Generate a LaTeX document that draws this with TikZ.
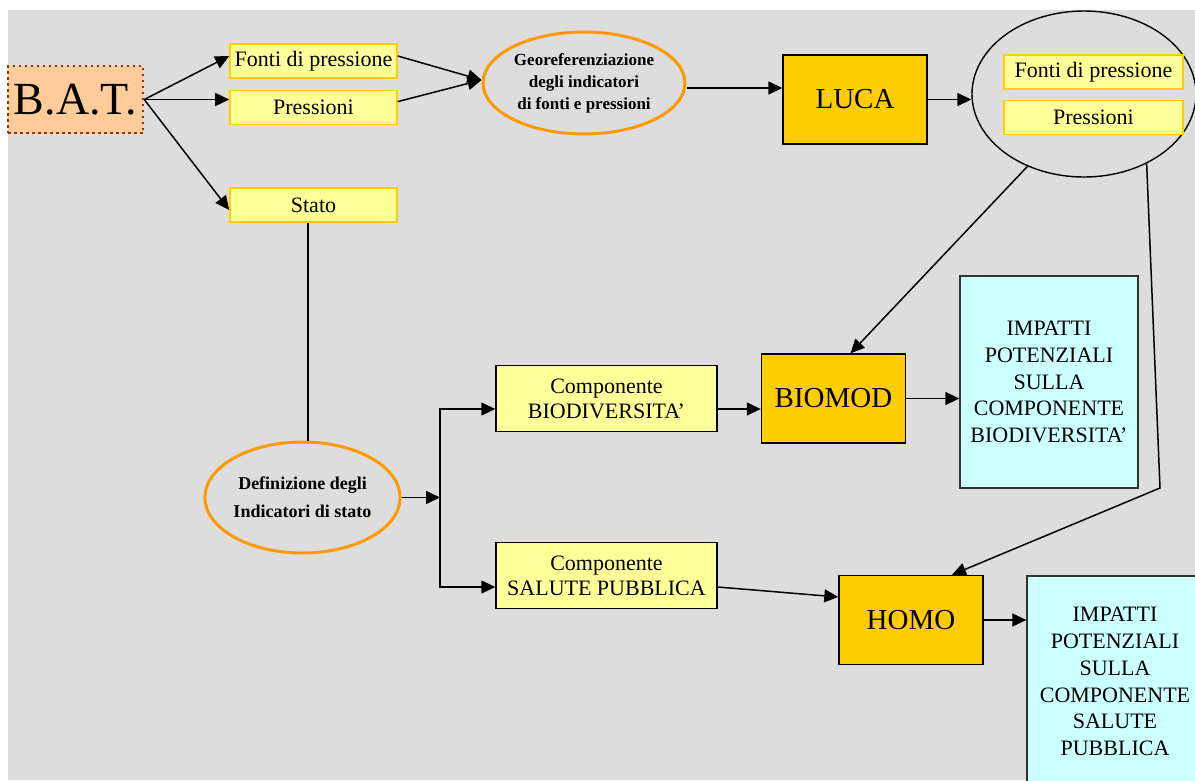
\documentclass[tikz,border=0pt]{standalone}
\usepackage{fontspec}
\setmainfont{Liberation Serif}
\usetikzlibrary{arrows.meta,positioning,shapes.geometric}
\definecolor{bggray}{HTML}{DDDDDD}
\definecolor{paleyellow}{HTML}{FFFF99}
\definecolor{gold}{HTML}{FFCC00}
\definecolor{peach}{HTML}{FFCC99}
\definecolor{rust}{HTML}{993300}
\definecolor{paleblue}{HTML}{CCFFFF}
\definecolor{orng}{HTML}{FF9900}
\newcommand{\txtsize}[2]{\fontsize{#1}{#2}\selectfont}

\begin{document}
\begin{tikzpicture}[x=1pt, y=-1pt,
  ind/.style={draw=gold, line width=1.6pt, fill=paleyellow, inner sep=0pt, minimum width=167pt, minimum height=34pt, font=\txtsize{22}{25}},
  comp/.style={ind, draw=black, line width=1.4pt, minimum width=221pt, minimum height=66pt, align=center},
  model/.style={draw=black, line width=1.4pt, fill=gold, inner sep=0pt, minimum width=144pt, minimum height=89pt, font=\txtsize{29}{34}},
  imp/.style={draw=black!80, line width=1.3pt, fill=paleblue, inner sep=0pt, minimum width=178pt, minimum height=212pt, align=center, font=\txtsize{22}{26.7}},
  proc/.style={ellipse, draw=orng, line width=3pt, inner sep=0pt, align=center, font=\bfseries\txtsize{17}{22}},
  arr/.style={-{Triangle[length=14pt, width=13pt]}, line width=1.5pt},
  lnk/.style={line width=1.5pt}
]
\useasboundingbox (0,0) rectangle (1195,780);
\clip (0,0) rectangle (1195,780);
\fill[bggray] (8,10) rectangle (1195,780);

% sorgente e indicatori
\node[draw=rust, dash pattern=on 2.5pt off 3.5pt, line width=2.5pt, fill=peach, inner sep=0pt,
  minimum width=135pt, minimum height=67pt, font=\txtsize{46}{50}] (bat) at (75.5,99.5) {B.A.T.};
\node[ind] (fonti) at (313.5,61) {Fonti di pressione};
\node[ind, below=11pt of fonti] (press) {Pressioni};
\node[ind] (stato) at (313.5,205) {Stato};

\node[proc, minimum width=202pt, minimum height=102pt] (georef) at (584,83)
  {Georeferenziazione\\degli indicatori\\ di fonti e pressioni};
\node[model] (luca) at (855,99.5) {LUCA};

\node[ellipse, draw, line width=1.4pt, minimum width=224pt, minimum height=166pt] (out) at (1084,94) {};
\node[ind, minimum width=179pt] (fonti2) at (1093.5,72) {Fonti di pressione};
\node[ind, minimum width=179pt, below=10pt of fonti2] (press2) {Pressioni};

% stato e componenti
\node[proc, minimum width=189pt, minimum height=111pt, font=\bfseries\txtsize{18}{28}] (defin) at (302.5,497.5)
  {Definizione degli\\Indicatori di stato};
\coordinate (split) at (440,497.5);
\node[comp] (biodiv) at (606.5,398.5) {Componente\\BIODIVERSITA’};
\node[comp] (salute) at (606.5,575.5) {Componente\\SALUTE PUBBLICA};

\node[model] (biomod) at (833.5,398.5) {BIOMOD};
\node[model] (homo) at (911,620) {HOMO};
\node[imp] (imp1) at (1049,382) {IMPATTI\\POTENZIALI\\SULLA\\COMPONENTE\\BIODIVERSITA’};
\node[imp, minimum width=176pt, minimum height=211pt] (imp2) at (1115,681.5)
  {IMPATTI\\POTENZIALI\\SULLA\\COMPONENTE\\SALUTE\\PUBBLICA};
\coordinate (bend) at (1160,488);

\draw[arr] (bat.east) -- ([yshift=5pt]fonti.west);
\draw[arr] (bat.east) -- (bat.east -| press.west);
\draw[arr] (bat.east) -- ([yshift=-5pt]stato.west);
\draw[arr] ([yshift=5pt]fonti.east) -- ([yshift=3pt]georef.west);
\draw[arr] ([yshift=6pt]press.east) -- ([yshift=3pt]georef.west);
\draw[arr] ([yshift=-5pt]georef.east) -- ([yshift=11.5pt]luca.west);
\draw[arr] (luca.east) -- (luca.east -| out.west);
\draw[arr] (out.232) -- ([xshift=17pt]biomod.north);
\draw[arr] (out.312) -- (bend) -- ([xshift=41pt]homo.north);

\draw[lnk] ([xshift=-5.5pt]stato.south) -- ([xshift=-5.5pt]stato.south |- defin.north);
\draw[arr] (defin.east) -- (split);
\draw[arr] (split) |- ([yshift=-10.5pt]biodiv.west);
\draw[arr] (split) |- ([yshift=-11.5pt]salute.west);
\draw[arr] ([yshift=-10.5pt]biodiv.east) -- ([yshift=-10.5pt]biodiv.east -| biomod.west);
\draw[arr] ([yshift=-11.5pt]salute.east) -- ([yshift=23pt]homo.west);
\draw[arr] (biomod.east) -- (biomod.east -| imp1.west);
\draw[arr] (homo.east) -- (homo.east -| imp2.west);
\end{tikzpicture}
\end{document}
